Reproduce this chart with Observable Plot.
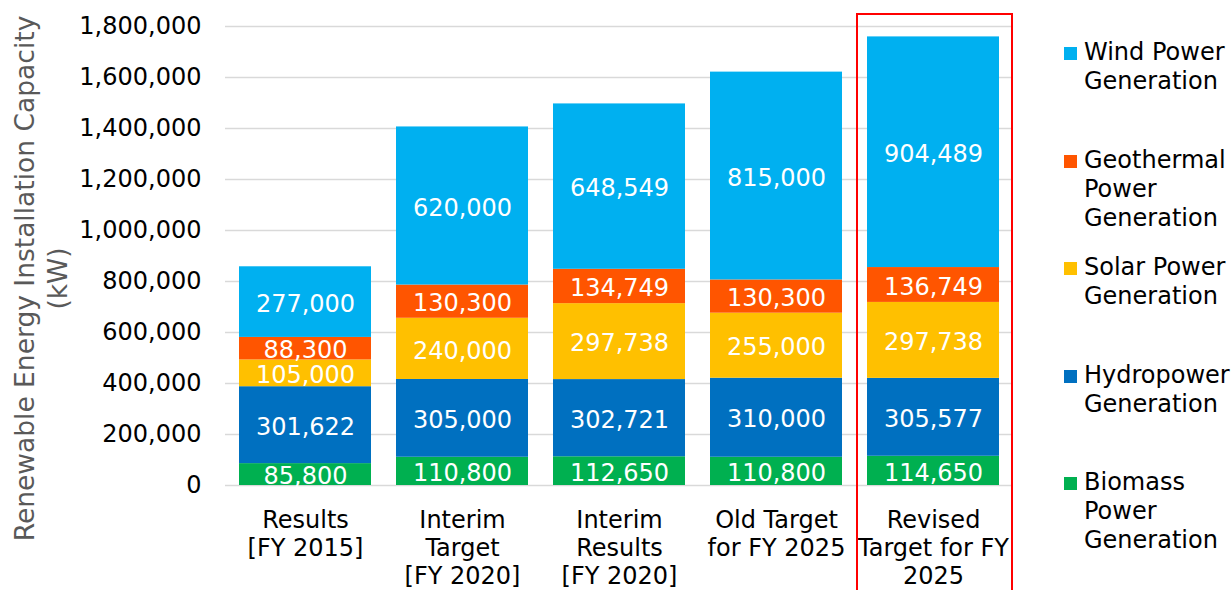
<!DOCTYPE html>
<html>
<head>
<meta charset="utf-8">
<script src="https://cdn.jsdelivr.net/npm/d3@7"></script>
<script src="https://cdn.jsdelivr.net/npm/@observablehq/plot@0.6"></script>
<style>
  html, body { margin: 0; padding: 0; background: #fff; overflow: hidden; }
  #wrap { position: relative; width: 1231px; height: 590px; overflow: hidden; font-family: "DejaVu Sans", Verdana, sans-serif; }
  #wrap svg { display: block; }
  .leg { position: absolute; left: 1064px; font-size: 24px; line-height: 29px; color: #000; white-space: pre; }
  .leg .sw { position: absolute; left: 0; top: 9px; width: 13px; height: 13px; }
  .leg .tx { position: absolute; left: 20px; top: 0; }
  #redbox { position: absolute; border: 2px solid #ff0000; box-sizing: border-box; }
</style>
</head>
<body>
<div id="wrap"></div>
<script>
// ---- data ----
const categories = ["Results [FY 2015]", "Interim Target [FY 2020]", "Interim Results [FY 2020]", "Old Target for FY 2025", "Revised Target for FY 2025"];
const xLabels = ["Results\n[FY 2015]", "Interim\nTarget\n[FY 2020]", "Interim\nResults\n[FY 2020]", "Old Target\nfor FY 2025", "Revised\nTarget for FY\n2025"];
const seriesNames = ["Biomass Power Generation", "Hydropower Generation", "Solar Power Generation", "Geothermal Power Generation", "Wind Power Generation"];
const legendLabels = ["Biomass\nPower\nGeneration", "Hydropower\nGeneration", "Solar Power\nGeneration", "Geothermal\nPower\nGeneration", "Wind Power\nGeneration"];
const biomass    = [85800, 110800, 112650, 110800, 114650];
const hydro      = [301622, 305000, 302721, 310000, 305577];
const solar      = [105000, 240000, 297738, 255000, 297738];
const geothermal = [88300, 130300, 134749, 130300, 136749];
const wind       = [277000, 620000, 648549, 815000, 904489];
const colors = ["#00b050", "#0070c0", "#ffc000", "#ff5500", "#00b0f0"];
const yTicks = [0, 200000, 400000, 600000, 800000, 1000000, 1200000, 1400000, 1600000, 1800000];
const yTitle = "Renewable Energy Installation Capacity\n(kW)";
const highlighted = "Revised Target for FY 2025";

// ---- build table ----
const seriesValues = [biomass, hydro, solar, geothermal, wind];
const rows = [];
categories.forEach((c, i) => {
  seriesNames.forEach((s, j) => rows.push({category: c, series: s, value: seriesValues[j][i]}));
});
const fmt = d3.format(",");

const chart = Plot.plot({
  width: 1231,
  height: 590,
  marginLeft: 225,
  marginRight: 218,
  marginTop: 26,
  marginBottom: 105,
  style: {fontFamily: "DejaVu Sans, Verdana, sans-serif", fontSize: "24px", color: "#000", background: "#fff"},
  x: {domain: categories, padding: 0.16, paddingOuter: 0.08, label: null},
  y: {domain: [0, 1800000], label: null},
  color: {domain: seriesNames, range: colors},
  marks: [
    Plot.gridY(yTicks, {stroke: "#d9d9d9", strokeOpacity: 1, strokeWidth: 1.5}),
    Plot.axisY(yTicks, {tickSize: 0, tickPadding: 24, tickFormat: fmt, fontSize: 24, label: null}),
    Plot.axisX({tickSize: 0, tickPadding: 22, tickFormat: d => xLabels[categories.indexOf(d)], fontSize: 24, lineHeight: 1.18, label: null}),
    Plot.barY(rows, {x: "category", y: "value", fill: "series", order: seriesNames}),
    Plot.text(rows, Plot.stackY({x: "category", y: "value", z: "series", order: seriesNames, text: d => fmt(d.value), fill: "#fff", fontSize: 24, dy: 2})),
    Plot.text([yTitle], {text: d => d, frameAnchor: "left", textAnchor: "middle", rotate: -90, dx: -186, dy: 22.5, fontSize: 26.5, lineHeight: 1.25, fill: "#595959"})
  ]
});

const wrap = document.getElementById("wrap");
wrap.appendChild(chart);

// ---- highlight box around the last category, derived from the scales ----
const xs = chart.scale("x");
const ys = chart.scale("y");
const bandStart = xs.apply(highlighted);
const bw = xs.bandwidth;
const box = document.createElement("div");
box.id = "redbox";
const boxLeft = bandStart - 11;
const boxRight = bandStart + bw + 14;
const boxTop = ys.apply(yTicks[yTicks.length - 1]) - 13;
box.style.left = boxLeft + "px";
box.style.top = boxTop + "px";
box.style.width = (boxRight - boxLeft) + "px";
box.style.height = (600 - boxTop) + "px";
wrap.appendChild(box);

// ---- legend (top to bottom: reverse stacking order) ----
const legendOrder = [4, 3, 2, 1, 0];
legendOrder.forEach((j, k) => {
  const item = document.createElement("div");
  item.className = "leg";
  item.style.top = (38 + 107.5 * k) + "px";
  const sw = document.createElement("div");
  sw.className = "sw";
  sw.style.background = colors[j];
  const tx = document.createElement("div");
  tx.className = "tx";
  tx.textContent = legendLabels[j];
  item.appendChild(sw);
  item.appendChild(tx);
  wrap.appendChild(item);
});
</script>
</body>
</html>
